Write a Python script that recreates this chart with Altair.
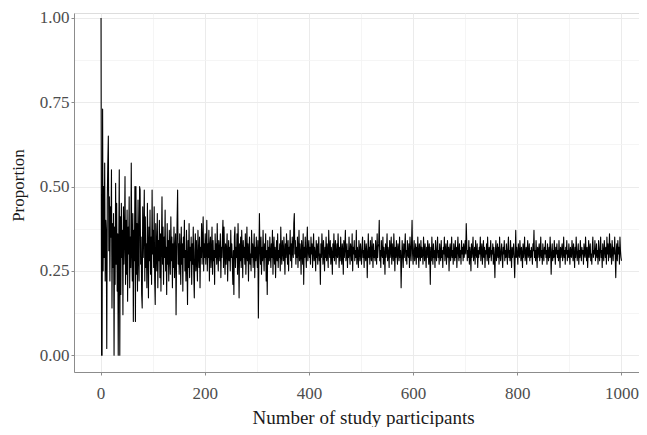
import altair as alt
import pandas as pd

pct_0001_0100 = [
    100, 0, 0, 73, 25, 50, 29, 57, 22, 40, 36, 2, 46, 57, 65, 31, 47, 22, 44, 35, 55, 14, 39, 26, 42,
    0, 38, 21, 51, 27, 45, 19, 36, 0, 33, 55, 0, 41, 18, 45, 29, 37, 12, 44, 27, 35, 53, 21, 40, 24,
    43, 16, 38, 30, 47, 20, 35, 26, 57, 31, 22, 42, 10, 37, 28, 50, 10, 50, 24, 39, 19, 46, 30, 22, 50,
    49, 27, 35, 18, 14, 44, 29, 36, 49, 22, 41, 26, 33, 20, 45, 31, 17, 38, 28, 43, 24, 35, 21, 49, 30,
]
pct_0101_0200 = [
    37, 26, 44, 22, 15, 39, 31, 25, 42, 20, 34, 28, 40, 23, 36, 19, 33, 47, 27, 38, 21, 35, 29, 43, 25,
    32, 18, 39, 27, 34, 22, 37, 30, 24, 41, 28, 35, 20, 33, 26, 38, 23, 31, 36, 12, 29, 40, 49, 27, 33,
    24, 36, 30, 21, 38, 27, 33, 19, 35, 29, 40, 25, 31, 22, 37, 28, 15, 34, 26, 39, 23, 32, 28, 35, 21,
    33, 27, 38, 24, 17, 31, 36, 25, 34, 28, 22, 37, 30, 26, 35, 20, 32, 29, 39, 27, 34, 41, 25, 33, 29,
]
pct_0201_0300 = [
    36, 27, 31, 40, 25, 33, 29, 37, 22, 32, 35, 26, 30, 38, 24, 34, 28, 31, 21, 36, 29, 33, 27, 39, 30,
    25, 34, 31, 28, 36, 23, 32, 29, 35, 40, 26, 38, 30, 24, 33, 27, 31, 36, 22, 30, 34, 28, 32, 25, 37,
    29, 33, 27, 21, 31, 18, 35, 38, 26, 32, 29, 36, 24, 39, 30, 17, 33, 28, 35, 26, 37, 31, 23, 34, 29,
    32, 27, 36, 24, 30, 38, 28, 33, 22, 31, 35, 27, 30, 25, 37, 29, 33, 26, 31, 36, 23, 32, 28, 35, 30,
]
pct_0301_0400 = [
    26, 34, 11, 29, 42, 31, 27, 35, 24, 32, 28, 37, 30, 25, 33, 29, 36, 22, 31, 18, 34, 27, 32, 28, 35,
    30, 26, 33, 29, 37, 24, 31, 35, 27, 32, 23, 30, 34, 28, 36, 26, 31, 29, 33, 25, 38, 30, 27, 34, 31,
    28, 35, 30, 24, 33, 29, 36, 31, 27, 34, 25, 32, 30, 37, 28, 33, 26, 35, 31, 29, 39, 42, 30, 34, 27,
    32, 29, 35, 26, 31, 37, 28, 33, 30, 24, 34, 31, 27, 36, 21, 32, 29, 35, 30, 26, 33, 38, 28, 31, 34,
]
pct_0401_0500 = [
    29, 32, 27, 35, 30, 33, 26, 31, 36, 28, 32, 30, 25, 34, 29, 33, 27, 31, 35, 28, 30, 21, 33, 29, 36,
    31, 27, 34, 30, 25, 32, 29, 35, 28, 33, 30, 26, 37, 31, 29, 34, 27, 32, 30, 24, 33, 29, 36, 28, 31,
    34, 27, 30, 33, 29, 36, 31, 26, 32, 28, 35, 30, 27, 33, 31, 24, 34, 29, 32, 37, 28, 30, 33, 26, 31,
    29, 35, 30, 27, 33, 31, 28, 36, 25, 32, 30, 34, 28, 31, 29, 37, 27, 32, 30, 26, 34, 31, 28, 33, 30,
]
pct_0501_0600 = [
    27, 32, 35, 29, 31, 26, 34, 30, 28, 33, 31, 23, 30, 36, 29, 32, 27, 34, 30, 28, 35, 31, 26, 33, 29,
    31, 28, 34, 30, 27, 36, 29, 32, 33, 40, 28, 31, 26, 34, 30, 29, 35, 27, 32, 30, 24, 33, 29, 31, 36,
    28, 32, 30, 26, 34, 29, 31, 35, 27, 33, 30, 28, 36, 31, 25, 32, 29, 34, 30, 27, 33, 31, 28, 35, 29,
    31, 20, 28, 34, 30, 26, 33, 29, 32, 36, 28, 31, 27, 34, 30, 29, 33, 26, 35, 31, 28, 33, 40, 30, 27,
]
pct_0601_0700 = [
    31, 34, 28, 30, 33, 27, 32, 29, 35, 30, 26, 33, 31, 28, 34, 29, 32, 30, 27, 35, 31, 28, 33, 30, 26,
    32, 29, 34, 31, 27, 33, 30, 21, 32, 28, 35, 30, 27, 33, 29, 31, 26, 34, 30, 28, 32, 35, 29, 31, 27,
    33, 30, 28, 34, 29, 31, 26, 32, 30, 35, 28, 31, 33, 27, 30, 34, 29, 32, 25, 31, 33, 28, 30, 35, 29,
    31, 27, 33, 30, 28, 34, 29, 32, 26, 31, 35, 30, 28, 33, 29, 31, 27, 34, 30, 32, 28, 33, 29, 31, 34,
]
pct_0701_0800 = [
    30, 39, 33, 28, 31, 29, 34, 27, 32, 30, 25, 33, 29, 31, 35, 28, 30, 32, 27, 34, 30, 29, 33, 26, 31,
    29, 32, 30, 35, 28, 31, 33, 27, 30, 34, 29, 32, 26, 31, 30, 33, 28, 35, 30, 27, 32, 29, 31, 34, 28,
    31, 30, 33, 27, 32, 29, 23, 31, 34, 28, 30, 33, 29, 32, 27, 35, 30, 28, 31, 33, 29, 26, 32, 30, 34,
    28, 31, 29, 33, 30, 27, 32, 35, 29, 31, 28, 34, 30, 26, 32, 29, 31, 33, 28, 23, 30, 37, 29, 32, 30,
]
pct_0801_0900 = [
    27, 33, 30, 29, 34, 31, 28, 32, 30, 26, 33, 29, 31, 35, 28, 30, 32, 27, 31, 34, 29, 30, 33, 28, 31,
    29, 32, 30, 27, 33, 31, 37, 29, 31, 28, 34, 30, 26, 32, 29, 31, 33, 28, 30, 35, 29, 31, 27, 33, 30,
    28, 32, 30, 34, 29, 31, 27, 33, 30, 28, 32, 29, 35, 31, 24, 30, 33, 28, 31, 29, 34, 30, 27, 32, 30,
    33, 29, 31, 28, 34, 30, 26, 32, 29, 31, 33, 28, 30, 35, 29, 31, 27, 32, 30, 34, 28, 31, 29, 33, 30,
]
pct_0901_1000 = [
    27, 32, 30, 29, 34, 31, 28, 33, 30, 26, 32, 29, 35, 31, 28, 30, 33, 27, 31, 29, 34, 30, 28, 32, 30,
    31, 27, 33, 30, 29, 35, 31, 28, 32, 26, 30, 34, 29, 31, 33, 28, 30, 27, 32, 35, 29, 31, 30, 34, 28,
    30, 33, 29, 31, 27, 34, 30, 28, 32, 35, 29, 31, 26, 33, 30, 28, 34, 31, 29, 32, 27, 35, 30, 33, 28,
    31, 36, 29, 33, 30, 27, 34, 31, 28, 32, 30, 35, 29, 23, 31, 33, 28, 34, 30, 32, 27, 35, 31, 29, 28,
]

x_major = [0, 200, 400, 600, 800, 1000]
x_minor = [100, 300, 500, 700, 900]
y_major = [0, 0.25, 0.5, 0.75, 1.0]
y_minor = [0.125, 0.375, 0.625, 0.875]

all_pct = (pct_0001_0100 + pct_0101_0200 + pct_0201_0300 + pct_0301_0400 + pct_0401_0500
           + pct_0501_0600 + pct_0601_0700 + pct_0701_0800 + pct_0801_0900 + pct_0901_1000)
df = pd.DataFrame({
    "n": list(range(1, len(all_pct) + 1)),
    "proportion": [v / 100 for v in all_pct],
})

FONT = "Liberation Serif"
xscale = alt.Scale(domain=[-50.9, 1033.6], nice=False, zero=False)
yscale = alt.Scale(domain=[-0.05, 1.0148], nice=False, zero=False)

minor_grid = alt.Chart(df).mark_line(strokeOpacity=0).encode(
    x=alt.X("n:Q", scale=xscale, axis=alt.Axis(
        values=x_minor, orient="top", grid=True, labels=False, ticks=False,
        domain=True, domainOpacity=0, title="", gridColor="#F2F2F2", gridWidth=0.8)),
    y=alt.Y("proportion:Q", scale=yscale, axis=alt.Axis(
        values=y_minor, orient="right", grid=True, labels=False, ticks=False,
        domain=True, domainOpacity=0, title="", gridColor="#F2F2F2", gridWidth=0.8)),
)

line = alt.Chart(df).mark_line(color="black", strokeWidth=1.1, strokeJoin="round").encode(
    x=alt.X("n:Q", scale=xscale, axis=alt.Axis(
        values=x_major, format="d", title="Number of study participants",
        grid=True, gridColor="#EBEBEB", gridWidth=1,
        domainColor="#8C8C8C", domainWidth=1, tickColor="#8C8C8C", tickSize=3, tickWidth=1,
        labelFont=FONT, labelFontSize=17, labelColor="#4D4D4D", labelPadding=10,
        titleFont=FONT, titleFontSize=19, titleFontWeight="normal", titleColor="#1A1A1A",
        titleX=289, titleY=51, titleAlign="center", titleBaseline="alphabetic")),
    y=alt.Y("proportion:Q", scale=yscale, axis=alt.Axis(
        values=y_major, format=".2f", title="Proportion",
        grid=True, gridColor="#EBEBEB", gridWidth=1,
        domainColor="#8C8C8C", domainWidth=1, tickColor="#8C8C8C", tickSize=3, tickWidth=1,
        labelFont=FONT, labelFontSize=17, labelColor="#4D4D4D", labelPadding=2,
        titleFont=FONT, titleFontSize=17, titleFontWeight="normal", titleColor="#1A1A1A",
        titleX=-51, titleY=172, titleAlign="center", titleBaseline="alphabetic", titleAngle=270)),
)

chart = alt.layer(minor_grid, line).resolve_axis(x="independent", y="independent").properties(
    width=565, height=359,
    autosize=alt.AutoSizeParams(type="none"),
    padding={"left": 66, "top": 5, "right": 0, "bottom": 55},
).configure_view(stroke="transparent", strokeWidth=0).configure(background="white")

chart.save("out.html", embed_options={"renderer": "svg", "actions": False})
